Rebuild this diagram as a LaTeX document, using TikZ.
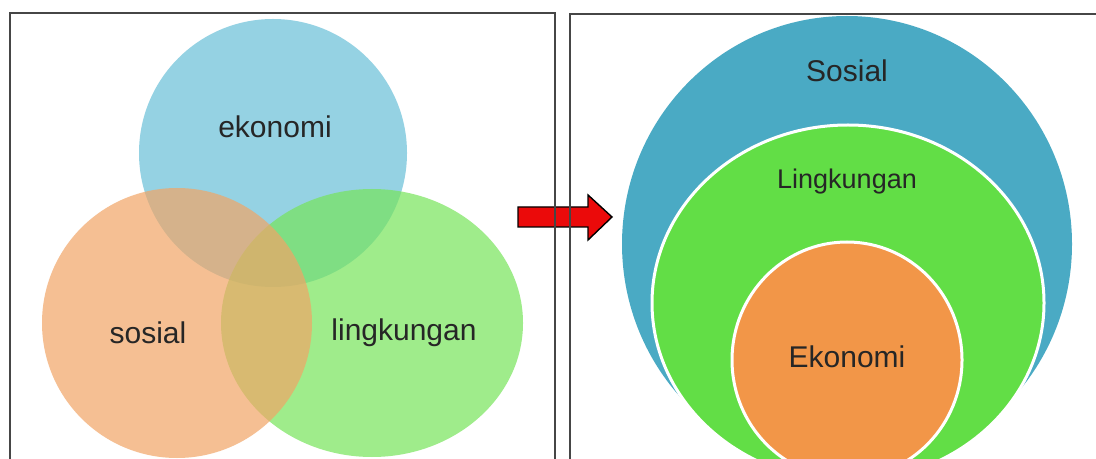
\documentclass[tikz,border=0pt]{standalone}
\usepackage{fontspec}
\setmainfont{Liberation Sans}
\usetikzlibrary{positioning}
\definecolor{vennblue}{RGB}{105,191,216}
\definecolor{venngreen}{RGB}{119,228,91}
\definecolor{vennorange}{RGB}{241,165,102}
\definecolor{arrowred}{RGB}{235,10,10}
\definecolor{outerblue}{RGB}{74,170,196}
\definecolor{innergreen}{RGB}{98,222,70}
\definecolor{coreorange}{RGB}{242,150,72}
\definecolor{panelgray}{RGB}{70,70,70}

\begin{document}
\begin{tikzpicture}[x=0.5pt,y=-0.5pt,
        venntext/.style={font=\fontsize{15}{18}\selectfont,text=black!85,inner sep=0pt},
        venn/.style={fill opacity=0.7},
        ring/.style={draw=white,line width=1.5pt},
        panel/.style={draw=panelgray,line width=1.2pt}]
        \clip (0,0) rectangle (1096,459);
        \fill[white] (0,0) rectangle (1096,459);
        \fill[venn,fill=vennblue] (273,153) circle [radius=134];
        \fill[venn,fill=venngreen] (372,323) ellipse [x radius=151,y radius=134];
        \fill[venn,fill=vennorange] (177,323) circle [radius=135];
        \node[venntext] (ekonomi) at (275,127) {ekonomi};
        \node[venntext] (sosial) at (148,333) {sosial};
        \node[venntext] (lingkungan) at (404,333) {lingkungan};
        \draw[fill=arrowred,draw=black,line width=0.7pt,line join=miter] (518,207) -- (588,207) -- (588,195)
        -- (612,217) -- (588,240) -- (588,227) -- (518,227) -- cycle;
        \fill[outerblue] (847,244) ellipse [x radius=225,y radius=228];
        \draw[ring,fill=innergreen] (848,303) ellipse [x radius=196,y radius=178];
        \draw[ring,fill=coreorange] (847,360) ellipse [x radius=115,y radius=118];
        \node[venntext] (Sosial) at (847,71) {Sosial};
        \node[venntext,font=\fontsize{13.5}{16}\selectfont] (Lingkungan) at (847,182) {Lingkungan};
        \node[venntext] (Ekonomi) at (847,357) {Ekonomi};
        \draw[panel] (10,13) rectangle (555,480);
        \draw[panel] (570,14) rectangle (1110,480);
    \end{tikzpicture}
\end{document}
